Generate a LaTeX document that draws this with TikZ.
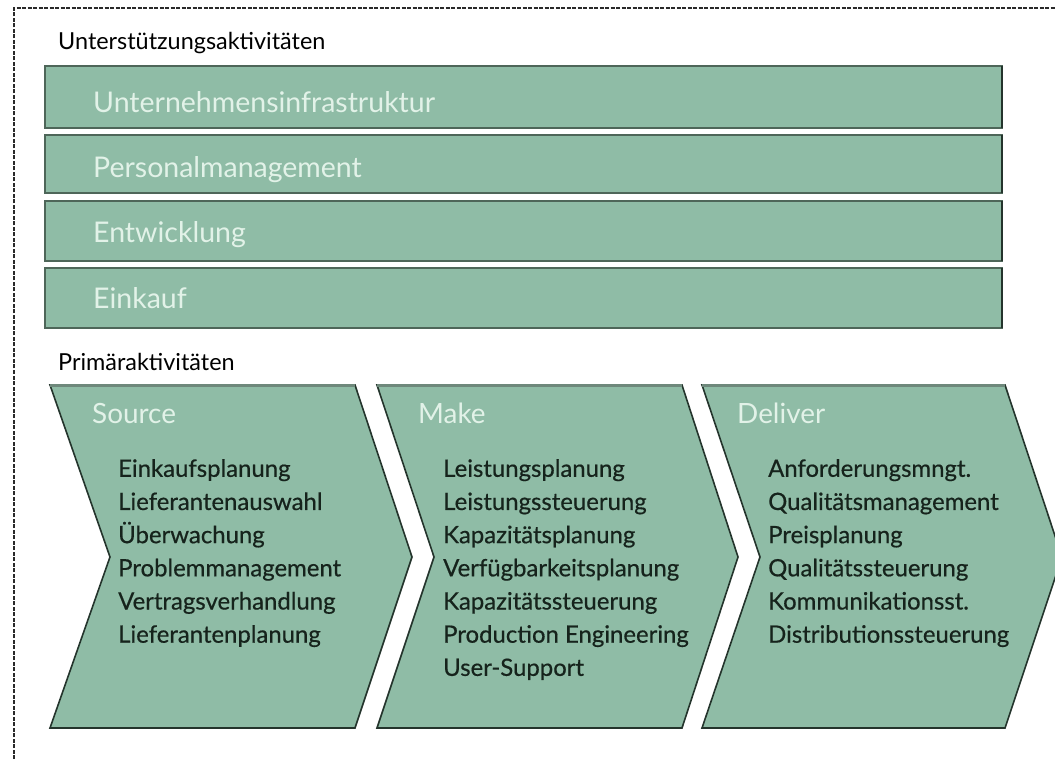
\documentclass[tikz,border=0pt]{standalone}
\usepackage{fontspec}
\setmainfont{Lato}
\newfontfamily\listfont{Lato}[FakeBold=0.5]
\definecolor{barfill}{HTML}{8FBCA6}
\definecolor{baredge}{HTML}{4E6659}
\definecolor{topedge}{HTML}{6E887B}
\definecolor{chevedge}{HTML}{24342C}
\definecolor{lighttext}{HTML}{E2F2E8}
\definecolor{darktext}{HTML}{16231C}
\definecolor{framecol}{HTML}{2A2A2A}
\tikzset{
  x=1bp, y=-1bp,
  supbar/.style={draw=baredge, line width=2.2bp, fill=barfill},
  baredgeline/.style={draw=chevedge, line width=2.2bp},
  barlabel/.style={anchor=base west, inner sep=0pt, text=lighttext, font=\fontsize{28.6}{32}\selectfont},
  sectionlabel/.style={anchor=base west, inner sep=0pt, text=black, font=\fontsize{23.5}{26}\selectfont},
  chevron/.style={draw=chevedge, line width=1.6bp, fill=barfill, line join=miter},
  chevtop/.style={draw=topedge, line width=3bp},
  chevtitle/.style={anchor=base west, inner sep=0pt, text=lighttext, font=\fontsize{28}{32}\selectfont},
  chevlist/.style={anchor=north west, inner sep=0pt, align=left, text=darktext, font=\listfont\fontsize{24}{33.3}\selectfont},
}
\begin{document}
\begin{tikzpicture}
\useasboundingbox (0,0) rectangle (1055,759);
\clip (0,0) rectangle (1055,759);
% frame
\draw[framecol, line width=2.4bp, dash pattern=on 4bp off 1.5bp] (14,759) -- (14,8) -- (1060,8);
% section labels
\node[sectionlabel] (lsup) at (58,50) {Unterstützungsaktivitäten};
\node[sectionlabel] (lprim) at (58,370) {Primäraktivitäten};
% support bars
\draw[supbar] (45,66) rectangle (1002,128);
\draw[supbar] (45,135) rectangle (1002,193);
\draw[supbar] (45,201) rectangle (1002,261);
\draw[supbar] (45,268) rectangle (1002,328);
\draw[baredgeline] (1002,66) -- (1002,128);
\draw[baredgeline] (1002,135) -- (1002,193);
\draw[baredgeline] (1002,201) -- (1002,261);
\draw[baredgeline] (1002,268) -- (1002,328);
\node[barlabel] (b1) at (93,112) {Unternehmensinfrastruktur};
\node[barlabel] (b2) at (93,177) {Personalmanagement};
\node[barlabel] (b3) at (93,242) {Entwicklung};
\node[barlabel] (b4) at (93,308) {Einkauf};
% chevrons
\draw[chevron] (50,385) -- (355,385) -- (412,557) -- (355,728) -- (50,728) -- (110,557) -- cycle;
\draw[chevron] (377,385) -- (682,385) -- (738,557) -- (682,728) -- (377,728) -- (434,557) -- cycle;
\draw[chevron] (702,385) -- (1005,385) -- (1062,557) -- (1005,728) -- (702,728) -- (760,557) -- cycle;
\draw[chevtop] (50,385) -- (355,385);
\draw[chevtop] (377,385) -- (682,385);
\draw[chevtop] (702,385) -- (1005,385);
% titles
\node[chevtitle] (tsrc) at (92,423) {Source};
\node[chevtitle] (tmake) at (418,423) {Make};
\node[chevtitle] (tdel) at (737,423) {Deliver};
% lists
\node[chevlist] (lsrc) at (118,459) {Einkaufsplanung\\Lieferantenauswahl\\Überwachung\\Problemmanagement\\Vertragsverhandlung\\Lieferantenplanung};
\node[chevlist] (lmake) at (443,459) {Leistungsplanung\\Leistungssteuerung\\Kapazitätsplanung\\Verfügbarkeitsplanung\\Kapazitätssteuerung\\Production Engineering\\User-Support};
\node[chevlist] (ldel) at (768,459) {Anforderungsmngt.\\Qualitätsmanagement\\Preisplanung\\Qualitätssteuerung\\Kommunikationsst.\\Distributionssteuerung};
\end{tikzpicture}
\end{document}
